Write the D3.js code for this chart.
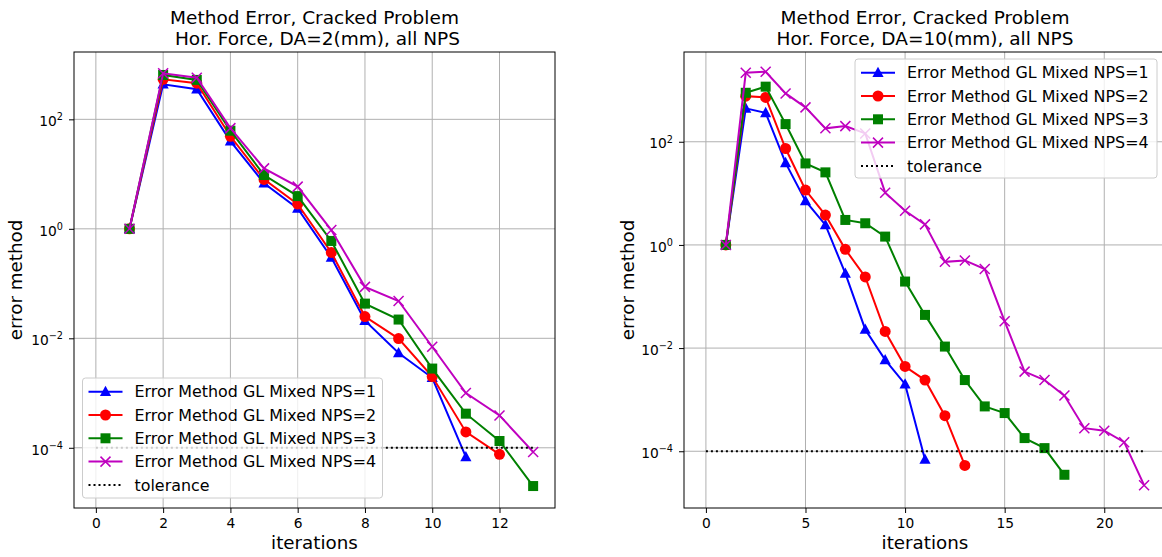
<!DOCTYPE html>
<html>
<head>
<meta charset="utf-8">
<script src="https://cdn.jsdelivr.net/npm/d3@7"></script>
<style>
	body { margin: 0; background: #fff; }
	svg { font-family: "DejaVu Sans", sans-serif; }
</style>
</head>
<body>
<script>

// values
var seriesNames = ['Error Method GL Mixed NPS=1', 'Error Method GL Mixed NPS=2',
	'Error Method GL Mixed NPS=3', 'Error Method GL Mixed NPS=4'];
var tolerance = 1e-4;

var leftTitle = ['Method Error, Cracked Problem', ' Hor. Force, DA=2(mm), all NPS'];
var leftXTicks = [0, 2, 4, 6, 8, 10, 12];
var leftYTicks = [-4, -2, 0, 2];
var leftNps1 = [1, 437, 355, 40, 6.8, 2.36, 0.30, 0.021, 0.0054, 0.0019, 6.8e-5];
var leftNps2 = [1, 540, 457, 49, 8.0, 2.83, 0.37, 0.025, 0.0099, 0.0020, 1.95e-4, 7.6e-5];
var leftNps3 = [1, 646, 525, 62, 9.6, 3.96, 0.60, 0.043, 0.022, 0.0028, 4.2e-4, 1.33e-4, 2.0e-5];
var leftNps4 = [1, 692, 575, 69, 12.7, 5.9, 0.95, 0.087, 0.048, 0.0070, 1.0e-3, 3.9e-4, 8.4e-5];

var rightTitle = ['Method Error, Cracked Problem', 'Hor. Force, DA=10(mm), all NPS'];
var rightXTicks = [0, 5, 10, 15, 20];
var rightYTicks = [-4, -2, 0, 2];
var rightNps1 = [1, 444, 363, 39, 7.1, 2.44, 0.28, 0.023, 0.0059, 0.0020, 6.9e-5];
var rightNps2 = [1, 765, 723, 74, 11.6, 3.8, 0.82, 0.24, 0.021, 0.0044, 0.0024, 4.9e-4, 5.3e-5];
var rightNps3 = [1, 890, 1170, 220, 38, 25.5, 3.05, 2.63, 1.45, 0.195, 0.044, 0.0107, 0.0024,
	7.4e-4, 5.5e-4, 1.8e-4, 1.15e-4, 3.5e-5];
var rightNps4 = [1, 2170, 2280, 865, 464, 182, 201, 145, 10.3, 4.6, 2.5, 0.47, 0.50, 0.34,
	0.033, 0.0035, 0.0024, 0.0012, 2.8e-4, 2.5e-4, 1.5e-4, 2.2e-5];

var colors = ['#0000ff', '#ff0000', '#008000', '#bf00bf'];
var markers = ['triangle', 'circle', 'square', 'cross'];

var svg = d3.select('body').append('svg')
	.attr('width', 1162)
	.attr('height', 557);

function drawMarker(g, type, x, y, color) {
	if (type === 'circle') {
		g.append('circle').attr('cx', x).attr('cy', y).attr('r', 5.5).attr('fill', color);
	} else if (type === 'square') {
		g.append('rect').attr('x', x - 5).attr('y', y - 5)
			.attr('width', 10).attr('height', 10).attr('fill', color);
	} else if (type === 'triangle') {
		g.append('path')
			.attr('d', 'M' + x + ',' + (y - 6) + 'L' + (x + 5.6) + ',' + (y + 4.3) + 'L' + (x - 5.6) + ',' + (y + 4.3) + 'Z')
			.attr('fill', color);
	} else {
		g.append('path')
			.attr('d', 'M' + (x - 5) + ',' + (y - 5) + 'L' + (x + 5) + ',' + (y + 5) +
				'M' + (x - 5) + ',' + (y + 5) + 'L' + (x + 5) + ',' + (y - 5))
			.attr('stroke', color).attr('stroke-width', 1.5).attr('fill', 'none');
	}
}

function drawPanel(p) {
	var x = d3.scaleLinear().domain(p.xDomain).range([p.left, p.left + p.width]);
	var y = d3.scaleLog().domain(p.yDomain).range([p.top + p.height, p.top]);

	var g = svg.append('g');

	g.append('clipPath').attr('id', p.id + '_clip')
		.append('rect')
		.attr('x', p.left).attr('y', p.top)
		.attr('width', p.width).attr('height', p.height);

	// grid
	g.selectAll('.vgrid').data(p.xTicks).enter()
		.append('line')
		.attr('x1', function(d) { return x(d); })
		.attr('x2', function(d) { return x(d); })
		.attr('y1', p.top).attr('y2', p.top + p.height)
		.attr('stroke', '#b0b0b0').attr('stroke-width', 1);
	g.selectAll('.hgrid').data(p.yTicks).enter()
		.append('line')
		.attr('x1', p.left).attr('x2', p.left + p.width)
		.attr('y1', function(d) { return y(Math.pow(10, d)); })
		.attr('y2', function(d) { return y(Math.pow(10, d)); })
		.attr('stroke', '#b0b0b0').attr('stroke-width', 1);

	var plot = g.append('g').attr('clip-path', 'url(#' + p.id + '_clip)');

	var line = d3.line()
		.x(function(d, i) { return x(i + 1); })
		.y(function(d) { return y(d); });

	p.series.forEach(function(s, k) {
		plot.append('path')
			.attr('d', line(s))
			.attr('fill', 'none')
			.attr('stroke', colors[k])
			.attr('stroke-width', 2);
		s.forEach(function(v, i) {
			drawMarker(plot, markers[k], x(i + 1), y(v), colors[k]);
		});
	});

	// tolerance
	plot.append('line')
		.attr('x1', x(0)).attr('x2', x(p.tolEnd))
		.attr('y1', y(tolerance)).attr('y2', y(tolerance))
		.attr('stroke', '#000').attr('stroke-width', 2)
		.attr('stroke-dasharray', '2,3');

	// axes
	var xAxis = g.append('g')
		.attr('transform', 'translate(0,' + (p.top + p.height) + ')')
		.call(d3.axisBottom(x).tickValues(p.xTicks).tickSize(5).tickPadding(5).tickSizeOuter(0));
	xAxis.selectAll('text').attr('font-size', 13.8).attr('fill', '#000')
		.attr('font-family', 'DejaVu Sans');

	var yAxis = g.append('g')
		.attr('transform', 'translate(' + p.left + ',0)')
		.call(d3.axisLeft(y).tickValues(p.yTicks.map(function(d) { return Math.pow(10, d); }))
			.tickFormat(function() { return ''; })
			.tickSize(5).tickPadding(6).tickSizeOuter(0));
	yAxis.selectAll('.tick text').each(function(d) {
		var t = d3.select(this)
			.attr('font-size', 13.8).attr('fill', '#000')
			.attr('font-family', 'DejaVu Sans')
			.attr('dy', '0.45em');
		var e = Math.round(Math.log10(d));
		t.append('tspan').text('10');
		t.append('tspan').attr('font-size', 9.7).attr('dy', '-0.6em')
			.text(e < 0 ? '\u2212' + Math.abs(e) : String(e));
	});
	g.selectAll('.domain').remove();
	g.selectAll('.tick line').attr('stroke', '#000').attr('stroke-width', 1);

	g.append('rect')
		.attr('x', p.left).attr('y', p.top)
		.attr('width', p.width).attr('height', p.height)
		.attr('fill', 'none').attr('stroke', '#000').attr('stroke-width', 1);

	// titles and labels
	p.title.forEach(function(t, i) {
		g.append('text')
			.attr('x', p.left + p.width / 2)
			.attr('y', 23.5 + i * 21.5)
			.attr('text-anchor', 'middle')
			.attr('font-size', 18.5)
			.attr('xml:space', 'preserve')
			.style('white-space', 'pre')
			.text(t);
	});
	g.append('text')
		.attr('x', p.left + p.width / 2)
		.attr('y', 549)
		.attr('text-anchor', 'middle')
		.attr('font-size', 18.3)
		.text('iterations');
	g.append('text')
		.attr('transform', 'translate(' + p.yLabelX + ',' + (p.top + p.height / 2) + ') rotate(-90)')
		.attr('text-anchor', 'middle')
		.attr('font-size', 18.3)
		.text('error method');

	// legend
	var L = p.legend;
	var lg = g.append('g');
	lg.append('rect')
		.attr('x', L.x).attr('y', L.y)
		.attr('width', L.w).attr('height', L.h)
		.attr('rx', 3)
		.attr('fill', '#fff').attr('fill-opacity', 0.8)
		.attr('stroke', '#cccccc').attr('stroke-width', 1);
	var rows = seriesNames.concat(['tolerance']);
	rows.forEach(function(name, i) {
		var cy = L.y + 13.7 + i * 23.3;
		var x0 = L.x + 6, x1 = L.x + 40;
		if (i < 4) {
			lg.append('line').attr('x1', x0).attr('x2', x1)
				.attr('y1', cy).attr('y2', cy)
				.attr('stroke', colors[i]).attr('stroke-width', 2);
			drawMarker(lg, markers[i], (x0 + x1) / 2, cy, colors[i]);
		} else {
			lg.append('line').attr('x1', x0).attr('x2', x1)
				.attr('y1', cy).attr('y2', cy)
				.attr('stroke', '#000').attr('stroke-width', 2)
				.attr('stroke-dasharray', '2,3');
		}
		lg.append('text')
			.attr('x', L.x + 52)
			.attr('y', cy)
			.attr('dy', '0.36em')
			.attr('font-size', 15.9)
			.text(name);
	});
}

drawPanel({
	id: 'left',
	left: 74, top: 52, width: 481, height: 456,
	xDomain: [-0.65, 13.65],
	yDomain: [Math.pow(10, -5.10), Math.pow(10, 3.23)],
	xTicks: leftXTicks, yTicks: leftYTicks,
	series: [leftNps1, leftNps2, leftNps3, leftNps4],
	tolEnd: 13,
	title: leftTitle,
	yLabelX: 22,
	legend: { x: 82.5, y: 378, w: 300, h: 120 }
});

drawPanel({
	id: 'right',
	left: 684, top: 52, width: 482, height: 456,
	xDomain: [-1.1, 23.1],
	yDomain: [Math.pow(10, -5.10), Math.pow(10, 3.74)],
	xTicks: rightXTicks, yTicks: rightYTicks,
	series: [rightNps1, rightNps2, rightNps3, rightNps4],
	tolEnd: 22,
	title: rightTitle,
	yLabelX: 634,
	legend: { x: 855, y: 59, w: 302, h: 119 }
});

</script>
</body>
</html>
